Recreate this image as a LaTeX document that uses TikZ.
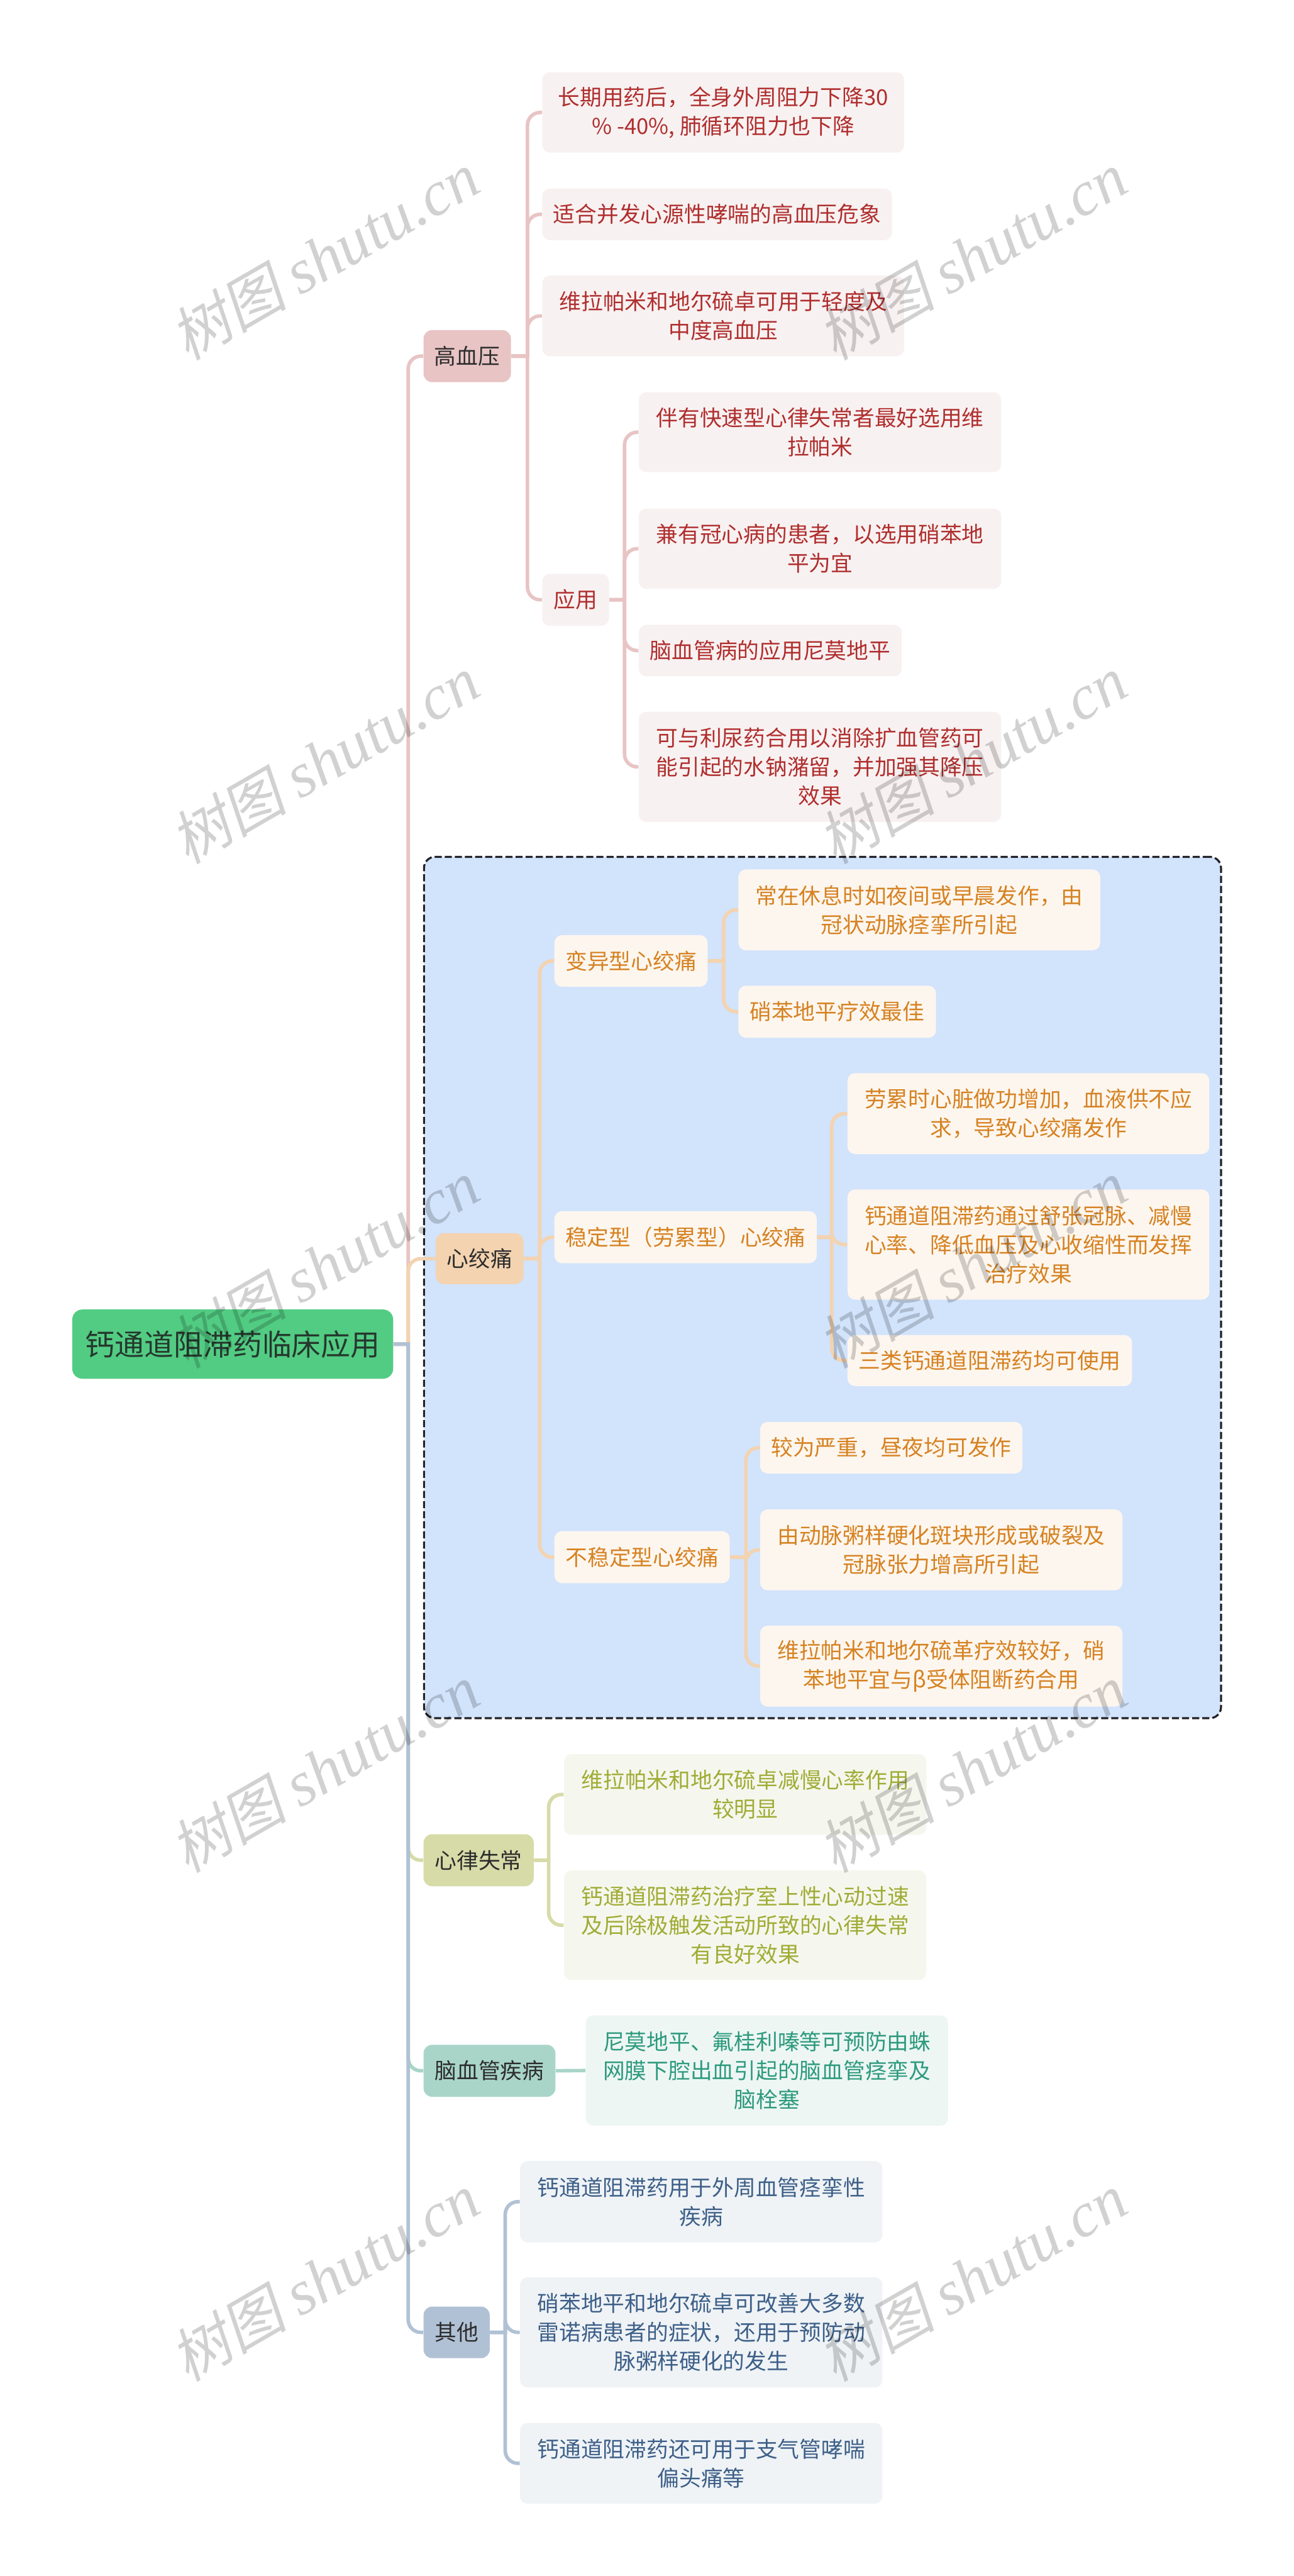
\documentclass[tikz,border=0pt]{standalone}
\usepackage{fontspec}
\setmainfont{Noto Sans CJK SC}
\newfontfamily\markcjk[FakeSlant=0.2]{Noto Sans CJK SC}
\newfontfamily\marklatin{Liberation Serif}
\newcommand{\markfont}{\fontsize{35.5}{36}\selectfont\marklatin\itshape}
\usepackage{tikz}
\usetikzlibrary{positioning,calc}
\usepackage{xcolor}
\definecolor{rootcolor}{RGB}{82,204,131}
\definecolor{rootink}{RGB}{38,56,46}
\definecolor{branchink}{RGB}{44,44,44}
\definecolor{groupcolor}{RGB}{210,227,252}
\definecolor{groupline}{RGB}{34,34,38}
\definecolor{gaocolor}{RGB}{232,196,196}
\definecolor{gaoleaf}{RGB}{248,241,241}
\definecolor{gaoink}{RGB}{176,46,46}
\definecolor{xincolor}{RGB}{243,211,176}
\definecolor{xinleaf}{RGB}{253,246,238}
\definecolor{xinink}{RGB}{214,130,34}
\definecolor{lvcolor}{RGB}{215,219,168}
\definecolor{lvleaf}{RGB}{245,247,238}
\definecolor{lvink}{RGB}{160,172,53}
\definecolor{naocolor}{RGB}{169,213,200}
\definecolor{naoleaf}{RGB}{237,246,243}
\definecolor{naoink}{RGB}{45,154,125}
\definecolor{qicolor}{RGB}{177,193,213}
\definecolor{qileaf}{RGB}{239,243,246}
\definecolor{qiink}{RGB}{61,95,136}

\begin{document}
\begin{tikzpicture}[
    box/.style={rectangle, inner sep=0pt, text centered, align=center, font=\fontsize{12.3}{16.3}\selectfont},
    branch/.style={box, rounded corners=0.17cm, text=branchink},
    leaf/.style={box, rounded corners=0.15cm},
    root/.style={box, rounded corners=0.2cm, fill=rootcolor, text=rootink, font=\fontsize{16.6}{20}\selectfont},
    gaobranch/.style={branch, fill=gaocolor},
    gaoitem/.style={leaf, fill=gaoleaf, text=gaoink},
    xinbranch/.style={branch, fill=xincolor},
    xinitem/.style={leaf, fill=xinleaf, text=xinink},
    lvbranch/.style={branch, fill=lvcolor},
    lvitem/.style={leaf, fill=lvleaf, text=lvink},
    naobranch/.style={branch, fill=naocolor},
    naoitem/.style={leaf, fill=naoleaf, text=naoink},
    qibranch/.style={branch, fill=qicolor},
    qiitem/.style={leaf, fill=qileaf, text=qiink},
    group/.style={rectangle, rounded corners=0.22cm, fill=groupcolor, draw=groupline, line width=0.04cm, dash pattern=on 0.14cm off 0.06cm},
    link/.style={line width=0.07cm},
    turn/.style={rounded corners=0.25cm},
    wmark/.style={rotate=30, text=black, opacity=0.18, font=\fontsize{33}{36}\selectfont}
]
\useasboundingbox (0,0) rectangle (25.6,-50.96);

% Dashed group
\node[group, minimum width=15.77cm, minimum height=17.04cm] (anginagroup) at (16.275,-25.47) {};

% Root
\node[root, minimum width=6.35cm, minimum height=1.37cm] (root) at (4.605,-26.59) {钙通道阻滞药临床应用};

% Main branches
\node[gaobranch, minimum width=1.73cm, minimum height=1.03cm] (gao) at (9.245,-7.045) {高血压};
\node[xinbranch, minimum width=1.74cm, minimum height=1.01cm] (xin) at (9.49,-24.9) {心绞痛};
\node[lvbranch, minimum width=2.18cm, minimum height=1.03cm] (lv) at (9.47,-36.8) {心律失常};
\node[naobranch, minimum width=2.61cm, minimum height=1.03cm] (nao) at (9.685,-40.965) {脑血管疾病};
\node[qibranch, minimum width=1.31cm, minimum height=1.02cm] (qi) at (9.035,-46.14) {其他};

% Hypertension
\node[gaoitem, minimum width=7.16cm, minimum height=1.59cm] (gao1) at (14.31,-2.225) {长期用药后，全身外周阻力下降30\\\% -40\%, 肺循环阻力也下降};
\node[gaoitem, minimum width=6.92cm, minimum height=1.02cm] (gao2) at (14.19,-4.24) {适合并发心源性哮喘的高血压危象};
\node[gaoitem, minimum width=7.16cm, minimum height=1.6cm] (gao3) at (14.31,-6.25) {维拉帕米和地尔硫卓可用于轻度及\\中度高血压};
\node[gaoitem, minimum width=1.32cm, minimum height=1.03cm] (gaouse) at (11.39,-11.865) {应用};
\node[gaoitem, minimum width=7.17cm, minimum height=1.58cm] (use1) at (16.225,-8.55) {伴有快速型心律失常者最好选用维\\拉帕米};
\node[gaoitem, minimum width=7.17cm, minimum height=1.59cm] (use2) at (16.225,-10.855) {兼有冠心病的患者，以选用硝苯地\\平为宜};
\node[gaoitem, minimum width=5.2cm, minimum height=1.02cm] (use3) at (15.24,-12.87) {脑血管病的应用尼莫地平};
\node[gaoitem, minimum width=7.17cm, minimum height=2.18cm] (use4) at (16.225,-15.17) {可与利尿药合用以消除扩血管药可\\能引起的水钠潴留，并加强其降压\\效果};

% Angina
\node[xinitem, minimum width=3.03cm, minimum height=1.02cm] (bian) at (12.485,-19.01) {变异型心绞痛};
\node[xinitem, minimum width=7.16cm, minimum height=1.6cm] (bian1) at (18.19,-18) {常在休息时如夜间或早晨发作，由\\冠状动脉痉挛所引起};
\node[xinitem, minimum width=3.91cm, minimum height=1.03cm] (bian2) at (16.565,-20.015) {硝苯地平疗效最佳};
\node[xinitem, minimum width=5.19cm, minimum height=1.03cm] (wen) at (13.565,-24.475) {稳定型（劳累型）心绞痛};
\node[xinitem, minimum width=7.16cm, minimum height=1.6cm] (wen1) at (20.35,-22.03) {劳累时心脏做功增加，血液供不应\\求，导致心绞痛发作};
\node[xinitem, minimum width=7.16cm, minimum height=2.18cm] (wen2) at (20.35,-24.62) {钙通道阻滞药通过舒张冠脉、减慢\\心率、降低血压及心收缩性而发挥\\治疗效果};
\node[xinitem, minimum width=5.63cm, minimum height=1.01cm] (wen3) at (19.585,-26.915) {三类钙通道阻滞药均可使用};
\node[xinitem, minimum width=3.47cm, minimum height=1.03cm] (bu) at (12.705,-30.805) {不稳定型心绞痛};
\node[xinitem, minimum width=5.19cm, minimum height=1.02cm] (bu1) at (17.635,-28.64) {较为严重，昼夜均可发作};
\node[xinitem, minimum width=7.17cm, minimum height=1.6cm] (bu2) at (18.625,-30.66) {由动脉粥样硬化斑块形成或破裂及\\冠脉张力增高所引起};
\node[xinitem, minimum width=7.17cm, minimum height=1.6cm] (bu3) at (18.625,-32.96) {维拉帕米和地尔硫革疗效较好，硝\\苯地平宜与β受体阻断药合用};

% Arrhythmia
\node[lvitem, minimum width=7.17cm, minimum height=1.6cm] (lv1) at (14.745,-35.5) {维拉帕米和地尔硫卓减慢心率作用\\较明显};
\node[lvitem, minimum width=7.17cm, minimum height=2.17cm] (lv2) at (14.745,-38.085) {钙通道阻滞药治疗室上性心动过速\\及后除极触发活动所致的心律失常\\有良好效果};

% Cerebrovascular
\node[naoitem, minimum width=7.17cm, minimum height=2.18cm] (nao1) at (15.175,-40.96) {尼莫地平、氟桂利嗪等可预防由蛛\\网膜下腔出血引起的脑血管痉挛及\\脑栓塞};

% Other
\node[qiitem, minimum width=7.17cm, minimum height=1.61cm] (qi1) at (13.875,-43.555) {钙通道阻滞药用于外周血管痉挛性\\疾病};
\node[qiitem, minimum width=7.17cm, minimum height=2.18cm] (qi2) at (13.875,-46.14) {硝苯地平和地尔硫卓可改善大多数\\雷诺病患者的症状，还用于预防动\\脉粥样硬化的发生};
\node[qiitem, minimum width=7.17cm, minimum height=1.6cm] (qi3) at (13.875,-48.73) {钙通道阻滞药还可用于支气管哮喘\\偏头痛等};

% Root connectors
\draw[link, gaocolor] (root.east) -- ++(0.29,0) [turn] |- (gao.west);
\draw[link, xincolor] (root.east) -- ++(0.29,0) [turn] |- (xin.west);
\draw[link, lvcolor] (root.east) -- ++(0.29,0) [turn] |- (lv.west);
\draw[link, naocolor] (root.east) -- ++(0.29,0) [turn] |- (nao.west);
\draw[link, qicolor] (root.east) -- ++(0.29,0) [turn] |- (qi.west);

% Hypertension connectors
\draw[link, gaocolor] (gao.east) -- ++(0.32,0) [turn] |- (gao1.west);
\draw[link, gaocolor] (gao.east) -- ++(0.32,0) [turn] |- (gao2.west);
\draw[link, gaocolor] (gao.east) -- ++(0.32,0) [turn] |- (gao3.west);
\draw[link, gaocolor] (gao.east) -- ++(0.32,0) [turn] |- (gaouse.west);
\draw[link, gaocolor] (gaouse.east) -- ++(0.3,0) [turn] |- (use1.west);
\draw[link, gaocolor] (gaouse.east) -- ++(0.3,0) [turn] |- (use2.west);
\draw[link, gaocolor] (gaouse.east) -- ++(0.3,0) [turn] |- (use3.west);
\draw[link, gaocolor] (gaouse.east) -- ++(0.3,0) [turn] |- (use4.west);

% Angina connectors
\draw[link, xincolor] (xin.east) -- ++(0.31,0) [turn] |- (bian.west);
\draw[link, xincolor] (xin.east) -- ++(0.31,0) [turn] |- (wen.west);
\draw[link, xincolor] (xin.east) -- ++(0.31,0) [turn] |- (bu.west);
\draw[link, xincolor] (bian.east) -- ++(0.31,0) [turn] |- (bian1.west);
\draw[link, xincolor] (bian.east) -- ++(0.31,0) [turn] |- (bian2.west);
\draw[link, xincolor] (wen.east) -- ++(0.29,0) [turn] |- (wen1.west);
\draw[link, xincolor] (wen.east) -- ++(0.29,0) [turn] |- (wen2.west);
\draw[link, xincolor] (wen.east) -- ++(0.29,0) [turn] |- (wen3.west);
\draw[link, xincolor] (bu.east) -- ++(0.31,0) [turn] |- (bu1.west);
\draw[link, xincolor] (bu.east) -- ++(0.31,0) [turn] |- (bu2.west);
\draw[link, xincolor] (bu.east) -- ++(0.31,0) [turn] |- (bu3.west);

% Remaining connectors
\draw[link, lvcolor] (lv.east) -- ++(0.29,0) [turn] |- (lv1.west);
\draw[link, lvcolor] (lv.east) -- ++(0.29,0) [turn] |- (lv2.west);
\draw[link, naocolor] (nao.east) -- (nao1.west);
\draw[link, qicolor] (qi.east) -- ++(0.3,0) [turn] |- (qi1.west);
\draw[link, qicolor] (qi.east) -- ++(0.3,0) [turn] |- (qi2.west);
\draw[link, qicolor] (qi.east) -- ++(0.3,0) [turn] |- (qi3.west);

% Watermarks
\node[wmark] (mark1) at (6.42,-5.07) {{\markcjk 树图} {\markfont shutu.cn}};
\node[wmark] (mark2) at (19.24,-5.07) {{\markcjk 树图} {\markfont shutu.cn}};
\node[wmark] (mark3) at (6.42,-15.04) {{\markcjk 树图} {\markfont shutu.cn}};
\node[wmark] (mark4) at (19.24,-15.04) {{\markcjk 树图} {\markfont shutu.cn}};
\node[wmark] (mark5) at (6.42,-25.02) {{\markcjk 树图} {\markfont shutu.cn}};
\node[wmark] (mark6) at (19.24,-25.02) {{\markcjk 树图} {\markfont shutu.cn}};
\node[wmark] (mark7) at (6.42,-34.99) {{\markcjk 树图} {\markfont shutu.cn}};
\node[wmark] (mark8) at (19.24,-34.99) {{\markcjk 树图} {\markfont shutu.cn}};
\node[wmark] (mark9) at (6.42,-45.06) {{\markcjk 树图} {\markfont shutu.cn}};
\node[wmark] (mark10) at (19.24,-45.06) {{\markcjk 树图} {\markfont shutu.cn}};

\end{tikzpicture}
\end{document}
